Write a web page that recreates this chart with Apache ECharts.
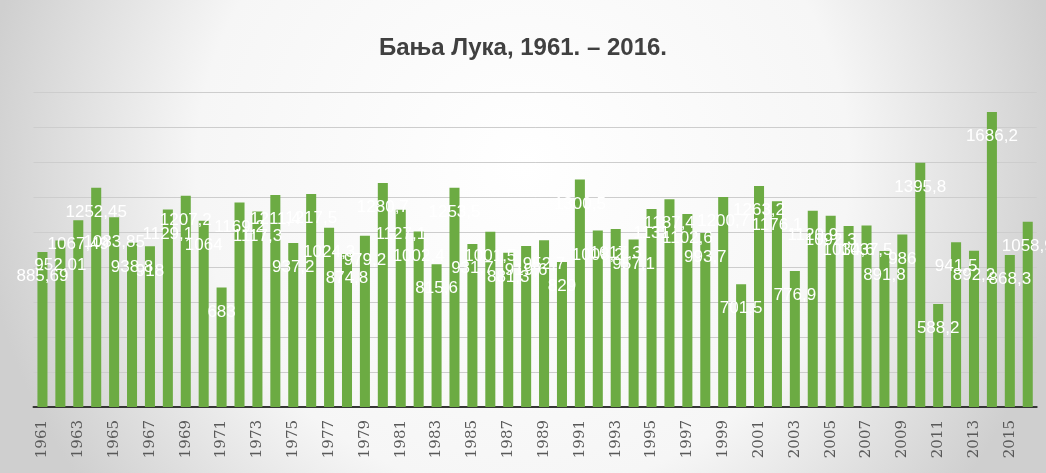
<!DOCTYPE html>
<html style="height: 100%">
   <head>
       <meta charset="utf-8">
   </head>
   <body style="height: 100%; margin: 0">
       <div id="container" style="width: 1046px; height: 473px"></div>
       <script type="text/javascript" src="https://cdn.jsdelivr.net/npm/echarts@6/dist/echarts.min.js"></script>
       <script type="text/javascript">
          // godine i godišnje padavine (mm), očitano sa slike
          var years = [];
          for (var y = 1961; y <= 2016; y++) {
              years.push(String(y));
          }
          var amounts = [
              885.69, 952.01, 1067.49, 1252.45, 1083.85, 938.8, 918, 1129.1, 1207.2, 1064,
              683, 1169.2, 1117.3, 1211.4, 937.2, 1217.5, 1024.3, 874.8, 979.2, 1280.7,
              1127.1, 1002.4, 815.6, 1253.5, 931.7, 1001.5, 881.3, 919.6, 952.7, 829,
              1300.5, 1008.2, 1017.3, 957.1, 1131, 1187.4, 1102.6, 993.7, 1200.7, 701.5,
              1263.2, 1176.1, 776.9, 1120.9, 1092.3, 1034.6, 1037.5, 891.8, 986, 1395.8,
              588.2, 941.5, 892.2, 1686.2, 868.3, 1058.9
          ];
          var yMax = 1800;
          var yStep = 200;

          var dom = document.getElementById("container");
          var myChart = echarts.init(dom);

          var option = {
              backgroundColor: new echarts.graphic.RadialGradient(0.5, 0.35, 1.15, [
                  { offset: 0, color: '#ffffff' },
                  { offset: 0.6, color: '#f6f6f6' },
                  { offset: 1, color: '#cfcfcf' }
              ]),
              animation: false,
              title: {
                  text: 'Бања Лука, 1961. – 2016.',
                  left: 'center',
                  top: 31,
                  textStyle: {
                      fontFamily: 'Liberation Sans',
                      fontSize: 24,
                      fontWeight: 'bold',
                      color: '#404040'
                  }
              },
              grid: {
                  left: 33.5,
                  right: 9.3,
                  top: 92,
                  bottom: 66
              },
              xAxis: {
                  type: 'category',
                  data: years,
                  axisTick: { show: false },
                  axisLine: { lineStyle: { color: '#353535', width: 2 } },
                  axisLabel: {
                      interval: 1,
                      rotate: 90,
                      margin: 13,
                      fontFamily: 'DejaVu Serif',
                      fontSize: 15,
                      color: '#595959'
                  }
              },
              yAxis: {
                  type: 'value',
                  min: 0,
                  max: yMax,
                  interval: yStep,
                  axisLabel: { show: false },
                  axisLine: { show: false },
                  axisTick: { show: false },
                  splitLine: { lineStyle: { color: '#cdcdcd', width: 1 } }
              },
              series: [{
                  type: 'bar',
                  data: amounts,
                  barCategoryGap: '44%',
                  itemStyle: { color: '#6cab43' },
                  label: {
                      show: true,
                      position: 'insideTop',
                      distance: 16,
                      fontFamily: 'Liberation Sans',
                      fontSize: 17,
                      color: '#ffffff',
                      formatter: function (p) {
                          return String(p.value).replace('.', ',');
                      }
                  }
              }]
          };
          if (option && typeof option === "object") {
              myChart.setOption(option, true);
          }
       </script>
   </body>
</html>
